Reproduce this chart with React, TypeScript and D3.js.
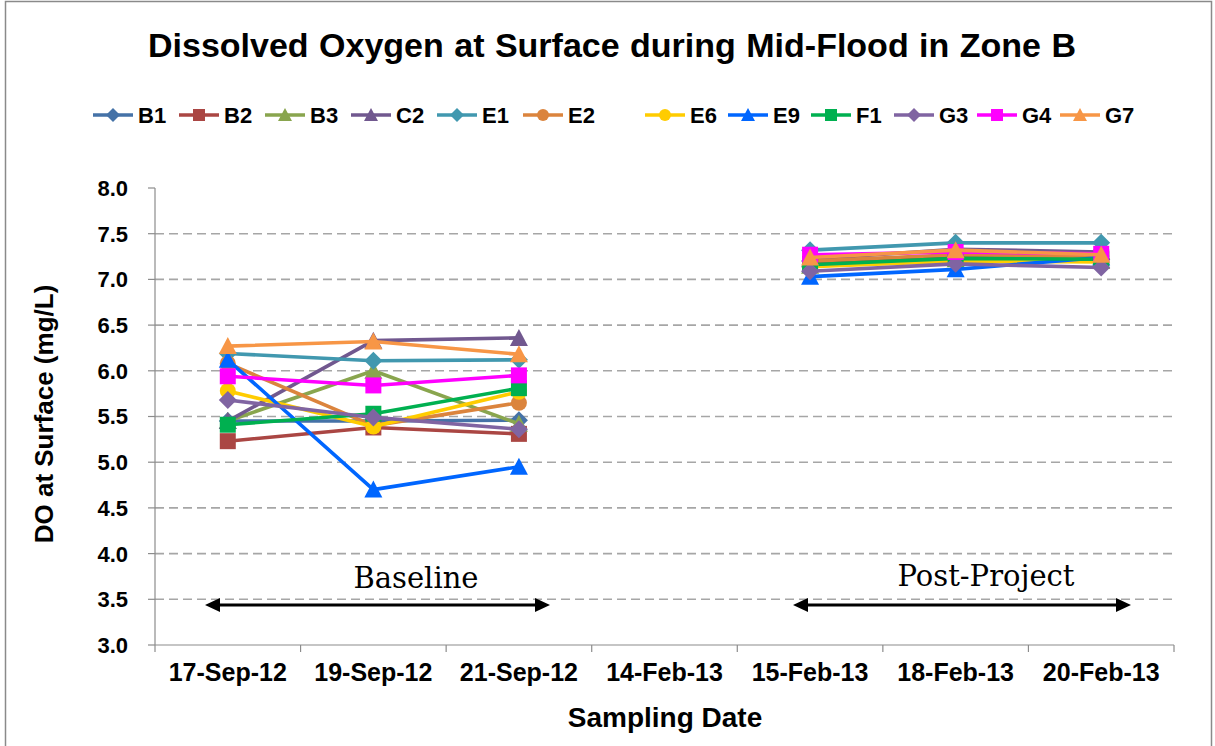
import React from "react";
import * as d3 from "d3";

// sampling dates (14-Feb-13 has no data, it only makes the gap)
const dates = ["17-Sep-12", "19-Sep-12", "21-Sep-12", "14-Feb-13", "15-Feb-13", "18-Feb-13", "20-Feb-13"];
const yTicks = [3.0, 3.5, 4.0, 4.5, 5.0, 5.5, 6.0, 6.5, 7.0, 7.5, 8.0];

const B1 = [5.45, 5.45, 5.46, null, 7.2, 7.25, 7.22];
const B2 = [5.23, 5.38, 5.31, null, 7.17, 7.24, 7.24];
const B3 = [5.45, 6.0, 5.42, null, 7.15, 7.22, 7.2];
const C2 = [5.45, 6.33, 6.36, null, 7.22, 7.33, 7.3];
const E1 = [6.19, 6.11, 6.12, null, 7.32, 7.4, 7.4];
const E2 = [6.08, 5.4, 5.65, null, 7.2, 7.27, 7.25];
const E6 = [5.78, 5.39, 5.77, null, 7.14, 7.2, 7.19];
const E9 = [6.12, 4.7, 4.95, null, 7.03, 7.11, 7.24];
const F1 = [5.41, 5.53, 5.81, null, 7.16, 7.23, 7.22];
const G3 = [5.68, 5.49, 5.36, null, 7.09, 7.17, 7.13];
const G4 = [5.94, 5.84, 5.95, null, 7.27, 7.3, 7.28];
const G7 = [6.27, 6.32, 6.18, null, 7.24, 7.32, 7.27];

type Shape = "diamond" | "square" | "triangle" | "circle";
type Series = { name: string; values: (number | null)[]; color: string; shape: Shape };

const series: Series[] = [
  { name: "B1", values: B1, color: "#4572A7", shape: "diamond" },
  { name: "B2", values: B2, color: "#AA4643", shape: "square" },
  { name: "B3", values: B3, color: "#89A54E", shape: "triangle" },
  { name: "C2", values: C2, color: "#71588F", shape: "triangle" },
  { name: "E1", values: E1, color: "#4198AF", shape: "diamond" },
  { name: "E2", values: E2, color: "#DB843D", shape: "circle" },
  { name: "E6", values: E6, color: "#FFCC00", shape: "circle" },
  { name: "E9", values: E9, color: "#0066FF", shape: "triangle" },
  { name: "F1", values: F1, color: "#00B050", shape: "square" },
  { name: "G3", values: G3, color: "#8064A2", shape: "diamond" },
  { name: "G4", values: G4, color: "#FF00FF", shape: "square" },
  { name: "G7", values: G7, color: "#F79646", shape: "triangle" },
];

const W = 1215;
const H = 746;
const margin = { top: 188, right: 41, bottom: 101, left: 155 };
const FONT = "Arial, 'Liberation Sans', sans-serif";
const SERIF = "'Book Antiqua', Palatino, 'DejaVu Serif', serif";

// path for an Excel-like marker centred on 0,0
function markerPath(shape: Shape, s: number) {
  const h = s / 2;
  if (shape === "square") return `M${-h},${-h}H${h}V${h}H${-h}Z`;
  if (shape === "diamond") return `M0,${-h - 1}L${h + 1},0L0,${h + 1}L${-h - 1},0Z`;
  if (shape === "triangle") return `M0,${-h - 1}L${h + 1},${h}L${-h - 1},${h}Z`;
  return d3.arc()({ innerRadius: 0, outerRadius: h, startAngle: 0, endAngle: Math.PI * 2 }) as string;
}

function Arrow({ x1, x2, y }: { x1: number; x2: number; y: number }) {
  const len = 15;
  const hw = 7;
  return (
    <g>
      <line x1={x1 + len - 2} x2={x2 - len + 2} y1={y} y2={y} stroke="#000" strokeWidth={2.8} />
      <path d={`M${x1},${y}L${x1 + len},${y - hw}L${x1 + len},${y + hw}Z`} fill="#000" />
      <path d={`M${x2},${y}L${x2 - len},${y - hw}L${x2 - len},${y + hw}Z`} fill="#000" />
    </g>
  );
}

export default function App() {
  const x = d3.scaleBand().domain(dates).range([margin.left, W - margin.right]);
  const y = d3.scaleLinear().domain([3, 8]).range([H - margin.bottom, margin.top]);
  const cx = (d: string) => (x(d) as number) + x.bandwidth() / 2;

  const line = d3
    .line<number | null>()
    .defined((v) => v != null)
    .x((_, i) => cx(dates[i]))
    .y((v) => y(v as number));

  const x0 = margin.left;
  const x1 = W - margin.right;
  const yBottom = H - margin.bottom;

  return (
    <svg width={W} height={H} style={{ display: "block", position: "absolute", left: 0, top: 0 }} fontFamily={FONT}>
      <rect x={0} y={0} width={W} height={H} fill="#fff" />
      <rect x={5.5} y={1.5} width={1206} height={800} fill="none" stroke="#8a8a8a" strokeWidth={1.5} />

      <text x={612} y={57} textAnchor="middle" fontSize={34} fontWeight="bold" wordSpacing={1}>
        Dissolved Oxygen at Surface during Mid-Flood in Zone B
      </text>

      {/* legend */}
      {series.map((s, i) => {
        const lx = i < 6 ? 93 + i * 86 : 645 + (i - 6) * 83;
        const ly = 115;
        return (
          <g key={s.name}>
            <line x1={lx} x2={lx + 40} y1={ly} y2={ly} stroke={s.color} strokeWidth={3.6} />
            <path d={markerPath(s.shape, 12)} transform={`translate(${lx + 20},${ly})`} fill={s.color} />
            <text x={lx + 45} y={ly + 8} fontSize={22} fontWeight="bold">
              {s.name}
            </text>
          </g>
        );
      })}

      {/* gridlines */}
      {yTicks
        .filter((t) => t > 3 && t < 8)
        .map((t) => (
          <line key={t} x1={x0} x2={x1} y1={y(t)} y2={y(t)} stroke="#a6a6a6" strokeWidth={1.6} strokeDasharray="9,5" />
        ))}

      {/* y axis */}
      <line x1={x0} x2={x0} y1={y(8)} y2={yBottom} stroke="#8c8c8c" strokeWidth={1.2} />
      {yTicks.map((t) => (
        <g key={t}>
          <line x1={x0 - 7} x2={x0} y1={y(t)} y2={y(t)} stroke="#8c8c8c" strokeWidth={1.2} />
          <text x={128} y={y(t)} dy="0.36em" textAnchor="end" fontSize={22} fontWeight="bold">
            {t.toFixed(1)}
          </text>
        </g>
      ))}

      {/* x axis */}
      <line x1={x0} x2={x1} y1={yBottom} y2={yBottom} stroke="#8c8c8c" strokeWidth={1.2} />
      {dates.map((d) => (
        <g key={d}>
          <line x1={x(d)} x2={x(d)} y1={yBottom} y2={yBottom + 7} stroke="#8c8c8c" strokeWidth={1.2} />
          <text x={cx(d)} y={681} textAnchor="middle" fontSize={25} fontWeight="bold">
            {d}
          </text>
        </g>
      ))}
      <line x1={x1} x2={x1} y1={yBottom} y2={yBottom + 7} stroke="#8c8c8c" strokeWidth={1.2} />

      <text x={665} y={727} textAnchor="middle" fontSize={28} fontWeight="bold">
        Sampling Date
      </text>
      <text transform={`translate(53,414) rotate(-90)`} textAnchor="middle" fontSize={26} fontWeight="bold">
        DO at Surface (mg/L)
      </text>

      {/* series */}
      {series.map((s) => (
        <g key={s.name}>
          <path d={line(s.values) as string} fill="none" stroke={s.color} strokeWidth={3.6} strokeLinejoin="round" />
          {s.values.map((v, i) =>
            v == null ? null : (
              <path key={i} d={markerPath(s.shape, 16)} transform={`translate(${cx(dates[i])},${y(v)})`} fill={s.color} />
            )
          )}
        </g>
      ))}

      {/* period annotations */}
      <text x={416} y={588} textAnchor="middle" fontSize={29} fontFamily={SERIF}>
        Baseline
      </text>
      <Arrow x1={205} x2={550} y={605} />
      <text x={986} y={586} textAnchor="middle" fontSize={29} fontFamily={SERIF}>
        Post-Project
      </text>
      <Arrow x1={793} x2={1131} y={605} />
    </svg>
  );
}
